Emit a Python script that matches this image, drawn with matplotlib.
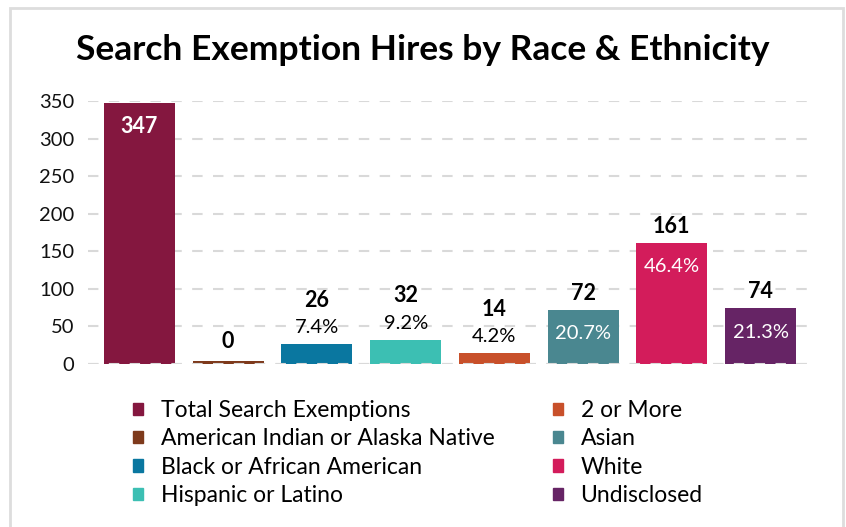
import matplotlib.pyplot as plt
from matplotlib.patches import Rectangle, Patch
import numpy as np

categories = ["Total Search Exemptions", "American Indian or Alaska Native",
              "Black or African American", "Hispanic or Latino", "2 or More",
              "Asian", "White", "Undisclosed"]
counts = [347, 0, 26, 32, 14, 72, 161, 74]
shares = [None, None, "7.4%", "9.2%", "4.2%", "20.7%", "46.4%", "21.3%"]
colors = ["#84173F", "#7E3A1C", "#0A77A0", "#3CBFB3", "#C8502A",
          "#4A8790", "#D31C5B", "#662465"]

plt.rcParams['font.family'] = ['Lato', 'DejaVu Sans']

fig = plt.figure(figsize=(8.46, 5.27), dpi=100)
ax = fig.add_axes([88 / 846, 1 - 364 / 527, 724 / 846, 263 / 527])

x = np.arange(len(counts))
shown = np.maximum(counts, 4)  # keep the zero bar visible
ax.bar(x, shown, width=0.8, color=colors, zorder=2)

ax.set_xlim(-0.58, 7.58)
ax.set_ylim(0, 350)
ax.set_yticks(range(0, 351, 50))
ax.grid(axis="y", color="#d9d9d9", linestyle=(0, (5, 5)), linewidth=1.5, zorder=1)
ax.axhline(0, color="#d9d9d9", linestyle=(0, (5, 5)), linewidth=1.5, zorder=3)
ax.set_xticks([])
for s in ax.spines.values():
    s.set_visible(False)
ax.tick_params(axis="y", length=0, labelsize=14.5, pad=10, labelcolor="#111111")

num_kw = dict(ha="center", va="center", fontsize=15.5, fontweight="bold")
pct_kw = dict(ha="center", va="center", fontsize=14.5)
for i, (c, p, h) in enumerate(zip(counts, shares, shown)):
    if p is None:
        if c > 50:
            ax.annotate(str(c), (i, h), xytext=(0, -17), textcoords="offset points",
                        color="white", **num_kw)
        else:
            ax.annotate(str(c), (i, h), xytext=(0, 14), textcoords="offset points",
                        **num_kw)
    elif c > 50:
        ax.annotate(p, (i, h), xytext=(0, -17), textcoords="offset points",
                    color="white", **pct_kw)
        ax.annotate(str(c), (i, h), xytext=(0, 12), textcoords="offset points",
                    **num_kw)
    else:
        ax.annotate(p, (i, h), xytext=(0, 12), textcoords="offset points", **pct_kw)
        ax.annotate(str(c), (i, h), xytext=(0, 32), textcoords="offset points",
                    **num_kw)

fig.text(0.5, 1 - 50 / 527, "Search Exemption Hires by Race & Ethnicity",
         ha="center", va="center", fontsize=25.5, fontweight="bold")

handles = [Patch(color=col) for col in colors]
leg_kw = dict(loc="upper left", frameon=False, fontsize=16.5, handlelength=0.45,
              handleheight=0.45, handletextpad=0.75, labelspacing=0.32,
              borderpad=0, borderaxespad=0)
fig.legend(handles[:4], categories[:4],
           bbox_to_anchor=(133 / 846, 1 - 400 / 527), **leg_kw)
fig.legend(handles[4:], categories[4:],
           bbox_to_anchor=(553 / 846, 1 - 400 / 527), **leg_kw)

fig.patches.append(Rectangle((10 / 846, -0.01), 833 / 846, 1 - 8 / 527 + 0.01,
                             transform=fig.transFigure, fill=False,
                             edgecolor="#dddddd", linewidth=2))

plt.savefig("out.png")
